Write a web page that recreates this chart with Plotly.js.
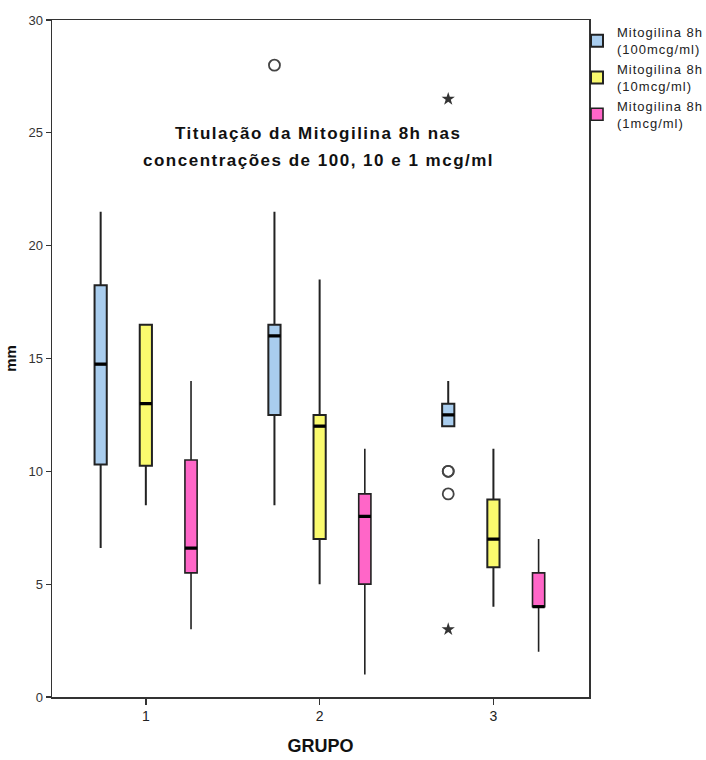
<!DOCTYPE html>
<html><head><meta charset="utf-8">
<script src="https://cdn.plot.ly/plotly-3.0.1.min.js"></script>
<style>
html,body{margin:0;padding:0;background:#fff}
#chart{width:706px;height:760px}
.annotation-text{letter-spacing:1.5px}
.legendtext{letter-spacing:1px}
</style>
</head><body><div id="chart"></div><script>
// categories
const groups = ['1', '2', '3'];
// series names
const seriesNames = ['Mitogilina 8h<br>(100mcg/ml)', 'Mitogilina 8h<br>(10mcg/ml)', 'Mitogilina 8h<br>(1mcg/ml)'];
const seriesColors = ['#a9cdee', '#fafa6e', '#ff66c8'];

// Mitogilina 8h (100mcg/ml)
const lower100  = [6.6, 8.5, 12];
const q1_100    = [10.3, 12.5, 12];
const median100 = [14.75, 16, 12.5];
const q3_100    = [18.25, 16.5, 13];
const upper100  = [21.5, 21.5, 14];

// Mitogilina 8h (10mcg/ml)
const lower10  = [8.5, 5, 4];
const q1_10    = [10.25, 7, 5.75];
const median10 = [13, 12, 7];
const q3_10    = [16.5, 12.5, 8.75];
const upper10  = [16.5, 18.5, 11];

// Mitogilina 8h (1mcg/ml)
const lower1  = [3, 1, 2];
const q1_1    = [5.5, 5, 4];
const median1 = [6.6, 8, 4];
const q3_1    = [10.5, 9, 5.5];
const upper1  = [14, 11, 7];

// outliers (100mcg/ml series)
const circleGroups = ['2', '3', '3', '3'];
const circleValues = [28, 10, 10, 9];
const starGroups = ['3', '3'];
const starValues = [26.5, 3];

const stats = [
  {lf: lower100, q1: q1_100, med: median100, q3: q3_100, uf: upper100, w: 2},
  {lf: lower10, q1: q1_10, med: median10, q3: q3_10, uf: upper10, w: 2},
  {lf: lower1, q1: q1_1, med: median1, q3: q3_1, uf: upper1, w: 1.6}
];

const traces = [];
stats.forEach((s, i) => {
  traces.push({
    type: 'box', x: groups, q1: s.q1, median: s.med, q3: s.q3,
    lowerfence: s.lf, upperfence: s.uf,
    name: seriesNames[i], offsetgroup: 'g' + i,
    fillcolor: seriesColors[i],
    line: {color: '#222', width: s.w},
    whiskerwidth: 0, boxpoints: false, hoverinfo: 'skip'
  });
});
// thick median lines
stats.forEach((s, i) => {
  traces.push({
    type: 'box', x: groups, q1: s.med, median: s.med, q3: s.med,
    lowerfence: s.med, upperfence: s.med,
    offsetgroup: 'g' + i, showlegend: false,
    fillcolor: 'rgba(0,0,0,0)',
    line: {color: '#000', width: 3.2},
    whiskerwidth: 0, boxpoints: false, hoverinfo: 'skip'
  });
});
// outliers
traces.push({
  type: 'box', x: circleGroups, y: circleValues, offsetgroup: 'g0', showlegend: false,
  boxpoints: 'all', jitter: 0, pointpos: 0,
  fillcolor: 'rgba(0,0,0,0)', line: {color: 'rgba(0,0,0,0)', width: 0},
  marker: {symbol: 'circle-open', size: 11, color: '#444', line: {width: 1.8}},
  whiskerwidth: 0, hoverinfo: 'skip'
});
traces.push({
  type: 'box', x: starGroups, y: starValues, offsetgroup: 'g0', showlegend: false,
  boxpoints: 'all', jitter: 0, pointpos: 0,
  fillcolor: 'rgba(0,0,0,0)', line: {color: 'rgba(0,0,0,0)', width: 0},
  marker: {symbol: 'star', size: 10, color: '#333'},
  whiskerwidth: 0, hoverinfo: 'skip'
});

const fontFam = 'Liberation Sans, Arial, sans-serif';
const layout = {
  width: 706, height: 760,
  margin: {l: 52, r: 117, t: 20, b: 63, autoexpand: false},
  paper_bgcolor: '#fff', plot_bgcolor: '#fff',
  boxmode: 'group', boxgap: 0.22, boxgroupgap: 0.73,
  font: {family: fontFam, color: '#222', size: 12},
  showlegend: true,
  legend: {
    x: 0.9777, xanchor: 'left', y: 1.004, yanchor: 'top',
    bgcolor: 'rgba(0,0,0,0)', borderwidth: 0,
    font: {family: fontFam, size: 13, color: '#222'},
    traceorder: 'normal', tracegroupgap: 0
  },
  xaxis: {
    type: 'category', categoryorder: 'array', categoryarray: groups,
    range: [-0.54, 2.55],
    showline: true, linecolor: '#333', linewidth: 1.5, mirror: true,
    ticks: 'outside', ticklen: 6, tickwidth: 1.5, tickcolor: '#333',
    showgrid: false, zeroline: false,
    tickfont: {size: 14, color: '#222'},
    title: {text: 'GRUPO', font: {size: 18, weight: 'bold', color: '#111'}, standoff: 16}
  },
  yaxis: {
    range: [0, 30], dtick: 5, tick0: 0,
    showline: true, linecolor: '#333', linewidth: 1.5, mirror: true,
    ticks: 'outside', ticklen: 5, tickwidth: 1.2, tickcolor: '#333',
    showgrid: false, zeroline: false,
    tickfont: {size: 13, color: '#333'},
    title: {text: 'mm', font: {size: 15, weight: 'bold', color: '#111'}, standoff: 8}
  },
  annotations: [
    {text: '<b>Titulação da Mitogilina 8h nas</b>', xref: 'paper', yref: 'paper',
     x: 0.497, y: 0.833, yanchor: 'middle', xanchor: 'center', showarrow: false,
     font: {family: fontFam, size: 17, color: '#111'}},
    {text: '<b>concentrações de 100, 10 e 1 mcg/ml</b>', xref: 'paper', yref: 'paper',
     x: 0.497, y: 0.793, yanchor: 'middle', xanchor: 'center', showarrow: false,
     font: {family: fontFam, size: 17, color: '#111'}}
  ]
};

Plotly.newPlot('chart', traces, layout, {displayModeBar: false, staticPlot: true});
</script></body></html>
